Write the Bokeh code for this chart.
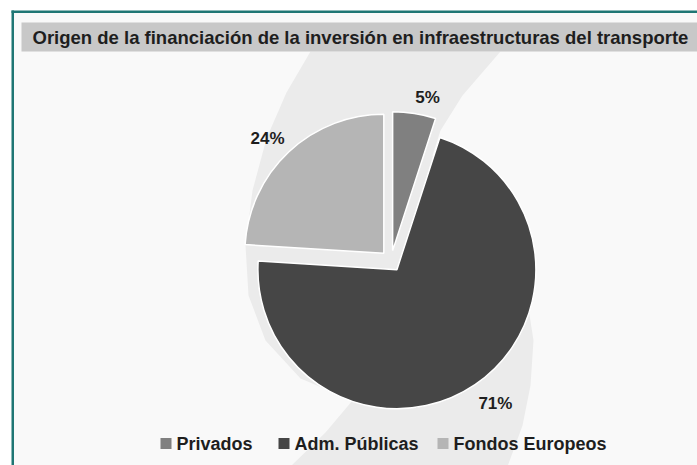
import numpy as np
from bokeh.plotting import figure
from bokeh.models import Range1d
from bokeh.core.properties import value
from bokeh.embed import file_html
from bokeh.resources import INLINE

# ---------------- data ----------------
TITLE = "Origen de la financiación de la inversión en infraestructuras del transporte"
CATEGORIES = ["Privados", "Adm. Públicas", "Fondos Europeos"]
SHARES = [5, 71, 24]
PCT_LABELS = ["5%", "71%", "24%"]
COLORS = ["#808080", "#464646", "#b5b5b5"]

# ---------------- layout helpers (screen px -> data) ----------------
W, H = 697, 465


def sy(y):
    return H - y


FONT = "Liberation Sans"

p = figure(width=W, height=H, x_range=Range1d(0, W), y_range=Range1d(0, H),
           output_backend="svg", toolbar_location=None, min_border=0)
p.axis.visible = False
p.grid.visible = False
p.outline_line_color = None
p.background_fill_color = "white"
p.border_fill_color = "white"

# frame interior
p.quad(left=13.5, right=W, top=sy(12.5), bottom=sy(H + 1), fill_color="#f9f9f9", line_color=None)
# teal frame lines
p.quad(left=11, right=W, top=sy(10), bottom=sy(12.5), fill_color="#1f7674", line_color=None)
p.quad(left=11, right=13.5, top=sy(10), bottom=sy(H + 1), fill_color="#1f7674", line_color=None)

# decorative background swoosh
sw_left = [(310, 51), (286, 92), (266, 138), (252, 190), (245, 245), (248, 295), (265, 340),
           (300, 378), (352, 400), (325, 432), (290, 466)]
sw_right = [(507, 466), (522, 425), (530, 385), (533, 340), (526, 295), (505, 250), (470, 210),
            (440, 180), (432, 155), (440, 130), (462, 95), (500, 51)]
sw = sw_left + sw_right
p.patch([q[0] for q in sw], [sy(q[1]) for q in sw], fill_color="#ebebeb", line_color=None)

# title band
p.quad(left=21, right=W, top=sy(22), bottom=sy(51), fill_color="#c8c8c8", line_color=None)
p.text(x=[32], y=[sy(37)], text=[TITLE], text_font=value(FONT), text_font_size="18.5px",
       text_font_style="bold", text_color="#1e1e1e", text_baseline="middle", text_align="left")

# ---------------- pie ----------------
CX, CY = 390.5, sy(260.5)
R = 139
EXPLODE = 10.5

total = float(sum(SHARES))
cum = np.concatenate([[0.0], np.cumsum(SHARES) / total])
starts = np.pi / 2 - 2 * np.pi * cum[:-1]
ends = np.pi / 2 - 2 * np.pi * cum[1:]
mids = (starts + ends) / 2
xs = CX + EXPLODE * np.cos(mids)
ys = CY + EXPLODE * np.sin(mids)

p.wedge(x=xs, y=ys, radius=R, start_angle=starts, end_angle=ends, direction="clock",
        fill_color=COLORS, line_color="white", line_width=1.5)

# percentage labels
LR = R + 6
for i, lab in enumerate(PCT_LABELS):
    ax = xs[i] + LR * np.cos(mids[i])
    ay = ys[i] + LR * np.sin(mids[i])
    align = "left" if np.cos(mids[i]) > 0 else "right"
    base = "bottom" if np.sin(mids[i]) > 0 else "top"
    dy = 0 if base == "bottom" else -4
    p.text(x=[ax], y=[ay + dy], text=[lab], text_font=value(FONT), text_font_size="17px",
           text_font_style="bold", text_color="#1e1e1e", text_align=align, text_baseline=base)

# ---------------- legend ----------------
LEG_X = [160, 278, 437]
LEG_Y = 443
SQ = 11
p.quad(left=LEG_X, right=[x + SQ for x in LEG_X], top=[sy(LEG_Y - SQ / 2)] * 3,
       bottom=[sy(LEG_Y + SQ / 2)] * 3, fill_color=COLORS, line_color=None)
p.text(x=[x + 16 for x in LEG_X], y=[sy(LEG_Y)] * 3, text=CATEGORIES, text_font=value(FONT),
       text_font_size="18px", text_font_style="bold", text_color="#1e1e1e",
       text_baseline="middle", text_align="left")

open("out.html", "w").write(file_html(p, INLINE))
